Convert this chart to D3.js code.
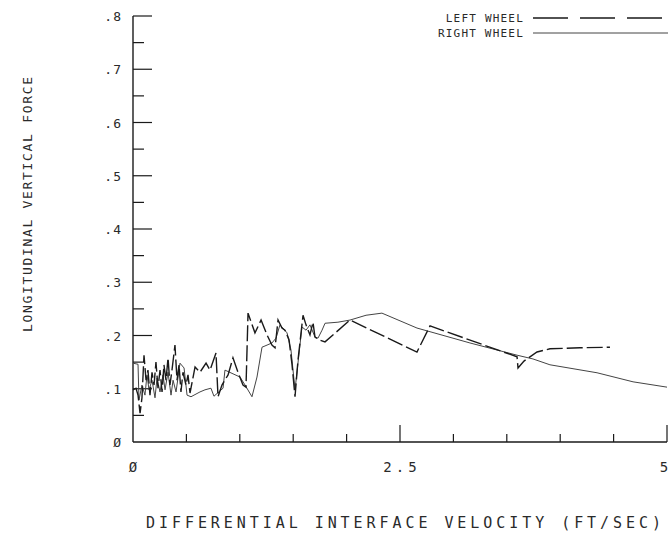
<!DOCTYPE html>
<html>
<head>
<meta charset="utf-8">
<script src="https://cdn.jsdelivr.net/npm/d3@7"></script>
<style>
  body { margin: 0; background: #fff; }
  text { font-family: "DejaVu Sans Mono", "Liberation Mono", monospace; fill: #2a2a2a; }
</style>
</head>
<body>
<div id="chart"></div>
<script>
const width = 672;
const height = 539;
const margin = { left: 133, right: 5, top: 16, bottom: 97 };

// left wheel (dashed) - x in ft/sec, y force
const leftX = [0, 0.028, 0.047, 0.066, 0.084, 0.103, 0.122, 0.14, 0.159, 0.178, 0.197, 0.215, 0.234, 0.253, 0.272, 0.29, 0.309, 0.328, 0.346, 0.365, 0.393, 0.412, 0.431, 0.449, 0.468, 0.496, 0.515, 0.534, 0.581, 0.627, 0.684, 0.721, 0.777, 0.796, 0.833, 0.89, 0.936, 0.983, 1.03, 1.058, 1.077, 1.142, 1.199, 1.255, 1.301, 1.33, 1.358, 1.395, 1.423, 1.461, 1.489, 1.517, 1.545, 1.592, 1.62, 1.657, 1.685, 1.704, 1.742, 1.798, 2.032, 2.659, 2.781, 3.596, 3.605, 3.661, 3.783, 3.904, 4.185, 4.466];
const leftY = [0.098, 0.101, 0.088, 0.054, 0.083, 0.163, 0.116, 0.135, 0.088, 0.131, 0.107, 0.15, 0.101, 0.135, 0.094, 0.145, 0.116, 0.158, 0.107, 0.135, 0.182, 0.116, 0.145, 0.094, 0.131, 0.107, 0.126, 0.092, 0.141, 0.131, 0.148, 0.135, 0.167, 0.085, 0.107, 0.126, 0.158, 0.131, 0.107, 0.103, 0.242, 0.205, 0.229, 0.201, 0.182, 0.177, 0.229, 0.214, 0.21, 0.192, 0.145, 0.085, 0.154, 0.238, 0.22, 0.201, 0.225, 0.197, 0.192, 0.188, 0.229, 0.169, 0.218, 0.16, 0.139, 0.152, 0.169, 0.175, 0.177, 0.178];

// right wheel (solid)
const rightX = [0, 0.047, 0.056, 0.084, 0.112, 0.131, 0.15, 0.178, 0.206, 0.225, 0.253, 0.281, 0.3, 0.328, 0.356, 0.375, 0.403, 0.44, 0.478, 0.506, 0.543, 0.627, 0.674, 0.73, 0.758, 0.843, 0.861, 1.002, 1.049, 1.114, 1.161, 1.208, 1.255, 1.301, 1.339, 1.376, 1.442, 1.479, 1.517, 1.582, 1.62, 1.657, 1.704, 1.732, 1.77, 1.798, 1.919, 2.032, 2.182, 2.331, 2.659, 3.155, 3.596, 3.745, 3.904, 4.345, 4.682, 5.0];
const rightY = [0.148, 0.146, 0.079, 0.107, 0.088, 0.126, 0.098, 0.116, 0.083, 0.12, 0.094, 0.126, 0.098, 0.131, 0.088, 0.116, 0.094, 0.148, 0.139, 0.088, 0.085, 0.094, 0.098, 0.101, 0.086, 0.101, 0.135, 0.122, 0.107, 0.085, 0.122, 0.178, 0.182, 0.186, 0.195, 0.22, 0.205, 0.173, 0.098, 0.216, 0.21, 0.22, 0.197, 0.195, 0.21, 0.223, 0.225, 0.229, 0.238, 0.242, 0.214, 0.186, 0.163, 0.156, 0.145, 0.13, 0.113, 0.103];

const yTickLabels = [".8", ".7", ".6", ".5", ".4", ".3", ".2", ".1", "Ø"];
const yTickValues = [0.8, 0.7, 0.6, 0.5, 0.4, 0.3, 0.2, 0.1, 0];
const xTickLabels = ["Ø", "2.5", "5"];
const xTickValues = [0, 2.5, 5];

const svg = d3
  .select("#chart")
  .append("svg")
  .attr("width", width)
  .attr("height", height);

const x = d3.scaleLinear().domain([0, 5]).range([margin.left, width - margin.right]);
const y = d3.scaleLinear().domain([0, 0.8]).range([height - margin.bottom, margin.top]);

const ink = "#1a1a1a";

// axis lines
svg.append("line")
  .attr("x1", x(0)).attr("x2", x(0))
  .attr("y1", y(0)).attr("y2", y(0.8))
  .attr("stroke", ink).attr("stroke-width", 1.4);
svg.append("line")
  .attr("x1", x(0)).attr("x2", x(5))
  .attr("y1", y(0)).attr("y2", y(0))
  .attr("stroke", ink).attr("stroke-width", 1.4);

// y ticks pointing inward, long at each .1, short at .05
const yTicks = d3.range(1, 17).map((i) => i * 0.05);
svg.selectAll(".ytick")
  .data(yTicks)
  .enter()
  .append("line")
  .attr("x1", x(0))
  .attr("x2", (d, i) => x(0) + (i % 2 === 1 ? 19 : 11))
  .attr("y1", (d) => y(d))
  .attr("y2", (d) => y(d))
  .attr("stroke", ink)
  .attr("stroke-width", 1.2);

// x ticks pointing up
const xTicks = d3.range(1, 11).map((i) => i * 0.5);
svg.selectAll(".xtick")
  .data(xTicks)
  .enter()
  .append("line")
  .attr("x1", (d) => x(d))
  .attr("x2", (d) => x(d))
  .attr("y1", y(0))
  .attr("y2", (d, i) => y(0) - (i === 4 || i === 9 ? 17 : 8))
  .attr("stroke", ink)
  .attr("stroke-width", 1.2);

svg.selectAll(".ylabel")
  .data(yTickValues)
  .enter()
  .append("text")
  .attr("x", 122)
  .attr("y", (d) => y(d) + 5)
  .attr("text-anchor", "end")
  .attr("font-size", 13)
  .attr("letter-spacing", 1)
  .text((d, i) => yTickLabels[i]);

svg.selectAll(".xlabel")
  .data(xTickValues)
  .enter()
  .append("text")
  .attr("x", (d, i) => (i === 2 ? x(d) - 3 : x(d) + (i === 1 ? 2 : 0)))
  .attr("y", 472)
  .attr("text-anchor", "middle")
  .attr("font-size", 14)
  .attr("letter-spacing", (d, i) => (i === 1 ? 4 : 0))
  .text((d, i) => xTickLabels[i]);

// axis titles
svg.append("text")
  .attr("x", 146)
  .attr("y", 528)
  .attr("font-size", 15)
  .attr("textLength", 515)
  .attr("lengthAdjust", "spacing")
  .text("DIFFERENTIAL INTERFACE VELOCITY (FT/SEC)");

svg.append("text")
  .attr("transform", "translate(32,332) rotate(-90)")
  .attr("font-size", 13)
  .attr("textLength", 255)
  .attr("lengthAdjust", "spacing")
  .text("LONGITUDINAL  VERTICAL  FORCE");

// data lines
const line = d3.line().x((d) => x(d[0])).y((d) => y(d[1]));
const leftData = leftX.map((v, i) => [v, leftY[i]]);
const rightData = rightX.map((v, i) => [v, rightY[i]]);

svg.append("path")
  .datum(rightData)
  .attr("d", line)
  .attr("fill", "none")
  .attr("stroke", "#444")
  .attr("stroke-width", 1);

svg.append("path")
  .datum(leftData)
  .attr("d", line)
  .attr("fill", "none")
  .attr("stroke", ink)
  .attr("stroke-width", 1.4)
  .attr("stroke-dasharray", "16,4");

// legend
const legend = [
  { name: "LEFT WHEEL", dash: "35,12", color: ink, w: 1.4 },
  { name: "RIGHT WHEEL", dash: null, color: "#444", w: 1 },
];
const lg = svg.selectAll(".legend")
  .data(legend)
  .enter()
  .append("g")
  .attr("transform", (d, i) => `translate(0,${18 + i * 15})`);
lg.append("text")
  .attr("x", 524)
  .attr("y", 4)
  .attr("text-anchor", "end")
  .attr("font-size", 11)
  .attr("letter-spacing", 1.2)
  .text((d) => d.name);
lg.append("line")
  .attr("x1", 533)
  .attr("x2", 668)
  .attr("y1", 0)
  .attr("y2", 0)
  .attr("stroke", (d) => d.color)
  .attr("stroke-width", (d) => d.w)
  .attr("stroke-dasharray", (d) => d.dash);
</script>
</body>
</html>
